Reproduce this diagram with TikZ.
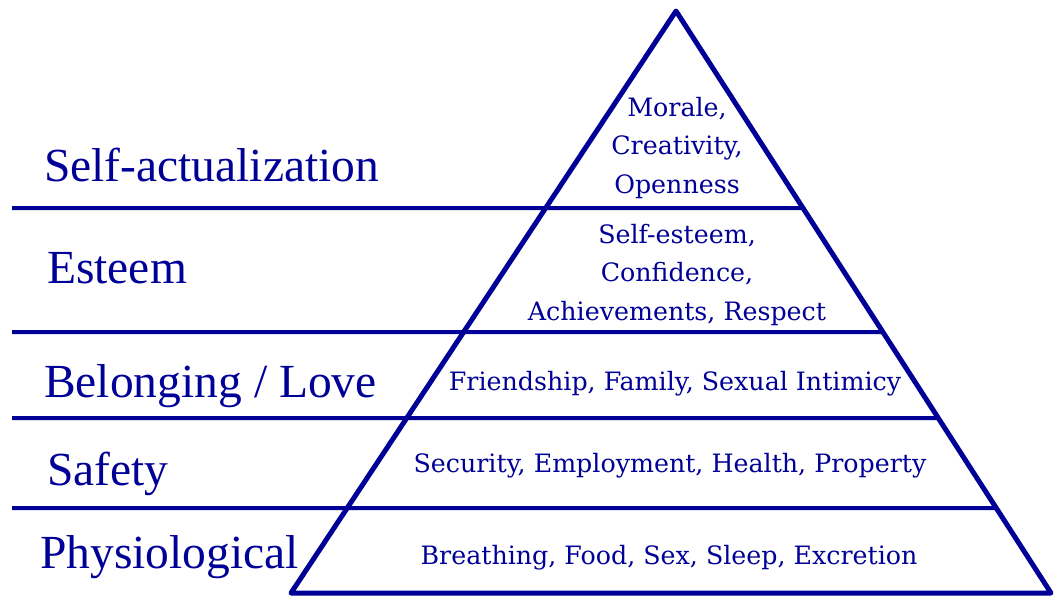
\documentclass[tikz,border=0pt]{standalone}
\usepackage{fontspec}
\setmainfont{Liberation Serif}
\newfontfamily\needfont{DejaVu Serif}
\definecolor{pyrblue}{RGB}{0,0,150}
\begin{document}
\begin{tikzpicture}[x=1pt, y=-1pt, line join=round, color=pyrblue,
	level/.style={font=\fontsize{47.5}{50}\selectfont, anchor=base west, inner sep=0pt},
	need/.style={font=\needfont\fontsize{25.3}{38.5}\selectfont, align=center, anchor=base, inner sep=0pt}]
	\useasboundingbox (0,0) rectangle (1056,597);
	\path (676,11) coordinate (T)
	(291,593) coordinate (L)
	(1051,593) coordinate (R)
	;
	\draw[line width=5pt] (T)--(L)--(R)--cycle;
	\foreach\y/\n in {208/a,332/b,418/c,508/d}{
		\path (intersection of T--R and 0,\y--1056,\y) coordinate (r\n);
		\draw[line width=4pt] (12,\y) coordinate (l\n)--(r\n);}
	% left column
	\node[level] (self) at (44,181) {Self-actualization};
	\node[level] (esteem) at (47,283) {Esteem};
	\node[level] (love) at (44,397) {Belonging / Love};
	\node[level] (safety) at (47,485) {Safety};
	\node[level] (physio) at (40,568) {Physiological};
	% inside the pyramid (base = last line)
	\node[need] (selfneeds) at (677,193) {Morale,\\Creativity,\\Openness};
	\node[need] (esteemneeds) at (677,320) {Self-esteem,\\Confidence,\\Achievements, Respect};
	\node[need] (loveneeds) at (675,390) {Friendship, Family, Sexual Intimicy};
	\node[need] (safetyneeds) at (670,472) {Security, Employment, Health, Property};
	\node[need] (physioneeds) at (669,564) {Breathing, Food, Sex, Sleep, Excretion};
\end{tikzpicture}
\end{document}
